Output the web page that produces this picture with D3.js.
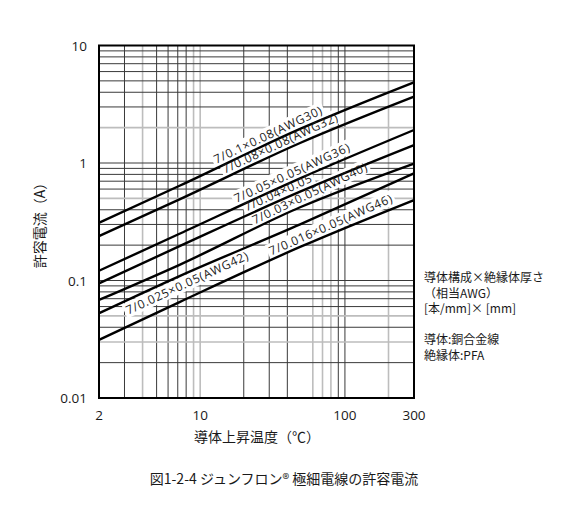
<!DOCTYPE html>
<html><head><meta charset="utf-8">
<script src="https://cdn.jsdelivr.net/npm/d3@7"></script>
<style>
html,body{margin:0;padding:0;background:#fff;}
svg{display:block;}
text{font-family:"Open Sans","Noto Sans CJK JP",sans-serif;fill:#1a1a1a;}
.jp{font-family:"Noto Sans CJK JP","Noto Sans",sans-serif;}
</style></head>
<body>
<svg id="chart" width="565" height="514"></svg>
<script>
// ---- data ----
const temps = [2, 7.2, 49, 300];                       // conductor temperature rise (°C)
const seriesNames = ["7/0.1×0.08(AWG30)","7/0.08×0.08(AWG32)","7/0.05×0.05(AWG36)","7/0.04×0.05","7/0.03×0.05(AWG40)","7/0.025×0.05(AWG42)","7/0.016×0.05(AWG46)"];
const awg30 = [0.31, 0.64, 1.95, 4.86];
const awg32 = [0.239, 0.491, 1.48, 3.67];
const awg36 = [0.121, 0.25, 0.74, 1.91];
const c004  = [0.0946, 0.196, 0.57, 1.42];
const awg40 = [0.0683, 0.136, 0.42, 0.99];
const awg42 = [0.0526, 0.109, 0.30, 0.817];
const awg46 = [0.0312, 0.0655, 0.193, 0.484];
const seriesValues = [awg30, awg32, awg36, c004, awg40, awg42, awg46];
const labelAt = [12.9, 14.8, 17.8, 20.9, 23.8, 3.18, 31];   // temperature where each label starts
const labelSide = ["above","above","above","above","above","below","above"];
const xTicks = [2, 10, 100, 300];
const xTickLabels = ["2", "10", "100", "300"];
const yTicks = [0.01, 0.1, 1, 10];
const yTickLabels = ["0.01", "0.1", "1", "10"];
const xGrid = [3,4,5,6,7,8,9,10,20,30,40,60,70,80,90,100,200];
const xGridGray = [4,9,10,60,70,80,200];
const yGrid = [0.02,0.03,0.04,0.05,0.06,0.07,0.08,0.09,0.1,0.2,0.3,0.4,0.5,0.6,0.7,0.8,0.9,1,2,3,4,5,6,7,8,9];
const yGridGray = [0.03,0.05,0.5,2];
const xTitle = "導体上昇温度（℃）";
const yTitle = "許容電流（A）";
const caption = "図1-2-4 ジュンフロン® 極細電線の許容電流";
const notes = ["導体構成×絶縁体厚さ","（相当AWG）","[本/mm]× [mm]","","導体:銅合金線","絶縁体:PFA"];

// ---- layout ----
const L = 99, R = 414, T = 45.5, B = 398;
const svg = d3.select("#chart");
const x = d3.scaleLog().domain([2, 300]).range([L, R]);
const y = d3.scaleLog().domain([0.01, 10]).range([B, T]);

// grid
const grid = svg.append("g");
grid.selectAll("line.vx").data(xGrid).join("line")
  .attr("x1", d => x(d)).attr("x2", d => x(d)).attr("y1", T).attr("y2", B)
  .attr("stroke", d => xGridGray.includes(d) ? "#bdbdbd" : "#3a3a3a")
  .attr("stroke-width", d => xGridGray.includes(d) ? 1.6 : 1);
grid.selectAll("line.hy").data(yGrid).join("line")
  .attr("y1", d => y(d)).attr("y2", d => y(d)).attr("x1", L).attr("x2", R)
  .attr("stroke", d => yGridGray.includes(d) ? "#bdbdbd" : "#3a3a3a")
  .attr("stroke-width", d => yGridGray.includes(d) ? 1.6 : 1);

// label geometry helper (log-log linear interpolation)
function interp(vals, t) {
  const lt = Math.log10(t);
  for (let i = 0; i < temps.length - 1; i++) {
    const a = Math.log10(temps[i]), b = Math.log10(temps[i + 1]);
    if (lt <= b || i === temps.length - 2) {
      const f = (lt - a) / (b - a);
      return Math.pow(10, Math.log10(vals[i]) + f * (Math.log10(vals[i + 1]) - Math.log10(vals[i])));
    }
  }
}
const labelsG = svg.append("g");
const curvesG = svg.append("g");
const textG = svg.append("g");

const line = d3.line().x(d => x(d[0])).y(d => y(d[1])).curve(d3.curveMonotoneX);
seriesValues.forEach((vals, i) => {
  curvesG.append("path")
    .attr("d", line(temps.map((t, j) => [t, vals[j]])))
    .attr("fill", "none").attr("stroke", "#000").attr("stroke-width", 2.4);
  const t0 = labelAt[i];
  const px = x(t0), py = y(interp(vals, t0));
  const px2 = x(t0 * 2), py2 = y(interp(vals, t0 * 2));
  const ang = Math.atan2(py2 - py, px2 - px) * 180 / Math.PI;
  const off = labelSide[i] === "above" ? -4.5 : 15;
  const tr = `translate(${px},${py + off}) rotate(${ang})`;
  const g = textG.append("g").attr("transform", tr);
  const tx = g.append("text").attr("x", 0).attr("y", 0).attr("font-size", 12)
    .attr("letter-spacing", 0.7).text(seriesNames[i]);
  const bb = tx.node().getBBox();
  labelsG.append("rect").attr("transform", tr)
    .attr("x", bb.x - 2).attr("y", bb.y + 1).attr("width", bb.width + 4).attr("height", bb.height - 2)
    .attr("fill", "#fff");
});

// frame
svg.append("rect").attr("x", L).attr("y", T).attr("width", R - L).attr("height", B - T)
  .attr("fill", "none").attr("stroke", "#000").attr("stroke-width", 2);

// axes tick labels
svg.append("g").selectAll("text").data(xTicks).join("text")
  .attr("x", d => x(d)).attr("y", 419.5).attr("text-anchor", "middle").attr("font-size", 13.5)
  .text((d, i) => xTickLabels[i]);
svg.append("g").selectAll("text").data(yTicks).join("text")
  .attr("x", 87).attr("y", d => y(d) + 5).attr("text-anchor", "end").attr("font-size", 13.5)
  .text((d, i) => yTickLabels[i]);

// titles
svg.append("text").attr("class", "jp").attr("x", 257).attr("y", 442)
  .attr("text-anchor", "middle").attr("font-size", 14).text(xTitle);
svg.append("text").attr("class", "jp")
  .attr("transform", "translate(45,222) rotate(-90)")
  .attr("text-anchor", "middle").attr("font-size", 14).text(yTitle);
svg.append("text").attr("class", "jp").attr("x", 284).attr("y", 484)
  .attr("text-anchor", "middle").attr("font-size", 14).text(caption);

// notes
svg.append("g").selectAll("text").data(notes).join("text").attr("class", "jp")
  .attr("x", 424).attr("y", (d, i) => 282 + i * 15.5).attr("font-size", 12).text(d => d);
</script>
</body></html>
